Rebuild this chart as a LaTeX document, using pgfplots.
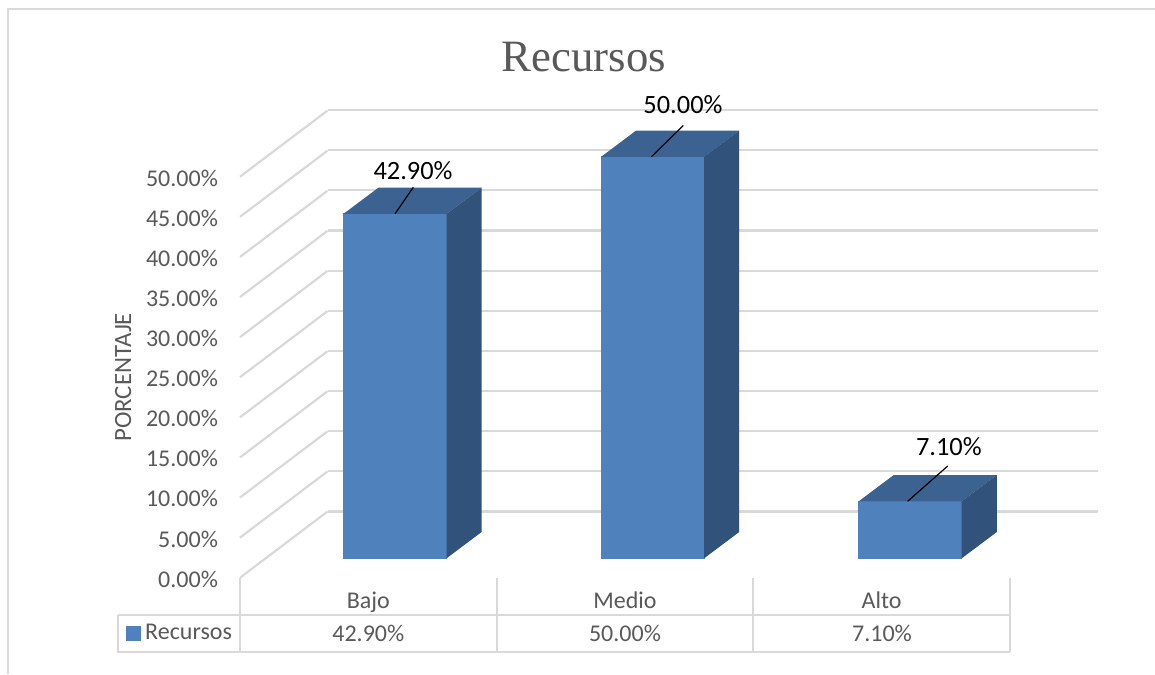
\documentclass[border=0pt]{standalone}
\usepackage{fontspec}
\setmainfont{Carlito}
\newfontfamily\titlefont{Liberation Serif}
\usepackage{pgfplots}
\pgfplotsset{compat=1.18}
\definecolor{gridc}{RGB}{217,217,217}
\definecolor{textc}{RGB}{89,89,89}
\definecolor{barfront}{RGB}{79,129,189}
\definecolor{bartop}{RGB}{60,98,145}
\definecolor{barside}{RGB}{49,82,122}

\begin{document}
% coordinates of the picture are reference pixels, 1px = 0.5pt
\begin{tikzpicture}[x=0.5pt,y=-0.5pt]
    \path[use as bounding box] (0,0) rectangle (1155,674);
    \draw[gridc,line width=1pt] (8,674) -- (8,9) -- (1155,9);
    \coordinate (wall) at (327.5,511.5);
    \coordinate (front) at (240,577.7);
    \coordinate (base) at (266.2,558.3);

    % back wall
    \begin{axis}[
        at={(wall)}, anchor=south west,
        scale only axis, width=385.25pt, height=200.75pt,
        xmin=0, xmax=1, ymin=0, ymax=50,
        ytick={0,5,...,50}, xtick=\empty, yticklabels={},
        ymajorgrids,
        grid style={gridc,line width=1.1pt},
        axis line style={draw=none},
        tick style={draw=none},
    ]
    \end{axis}

    % front plane: value axis, categories, side wall
    \begin{axis}[
        at={(front)}, anchor=south west,
        scale only axis, width=385pt, height=200.5pt,
        xmin=-0.5, xmax=2.5, ymin=0, ymax=50,
        clip=false,
        xtick={0,1,2}, xticklabels={Bajo,Medio,Alto},
        ytick={0,5,...,50},
        yticklabel={\pgfmathprintnumber[fixed,fixed zerofill,precision=2,assume math mode=true]{\tick}\%},
        yticklabel style={anchor=east,xshift=-7.5pt,yshift=-0.7pt},
        xticklabel style={anchor=base,yshift=-15.6pt},
        tick label style={font=\fontsize{12}{14}\selectfont,text=textc},
        ylabel={PORCENTAJE},
        ylabel shift=0.5pt,
        ylabel style={font=\fontsize{12.4}{14}\selectfont,text=textc},
        title={\titlefont Recursos},
        title style={at={(0.4468,1.2688)},anchor=center,font=\fontsize{22.4}{26}\selectfont,text=textc},
        axis line style={draw=none},
        tick style={draw=none},
        unbounded coords=jump,
    ]
        \addplot[gridc,line width=1.1pt] coordinates {
            (-0.5,0) (-0.159,8.25) (nan,nan)
            (-0.5,5) (-0.159,13.25) (nan,nan)
            (-0.5,10) (-0.159,18.25) (nan,nan)
            (-0.5,15) (-0.159,23.25) (nan,nan)
            (-0.5,20) (-0.159,28.25) (nan,nan)
            (-0.5,25) (-0.159,33.25) (nan,nan)
            (-0.5,30) (-0.159,38.25) (nan,nan)
            (-0.5,35) (-0.159,43.25) (nan,nan)
            (-0.5,40) (-0.159,48.25) (nan,nan)
            (-0.5,45) (-0.159,53.25) (nan,nan)
            (-0.5,50) (-0.159,58.25)
        };
    \end{axis}

    % data table under the plot
    \draw[gridc,line width=1.1pt] (240,577.7) -- (240,652.3)
        (496.7,577.7) -- (496.7,652.3)
        (753.3,577.7) -- (753.3,652.3)
        (1010,577.7) -- (1010,652.3)
        (118.3,614.7) -- (1010,614.7)
        (118.3,614.7) -- (118.3,652.3) -- (1010,652.3);
    \begin{scope}[every node/.style={font=\fontsize{12}{14}\selectfont,text=textc}]
        \node at (368.3,633) {42.90\%};
        \node at (625,633) {50.00\%};
        \node at (882,633) {7.10\%};
    \end{scope}

    % bars, the base sits above the front edge of the floor
    \begin{axis}[
        at={(base)}, anchor=south west,
        scale only axis, width=386.4pt, height=200.75pt,
        xmin=-0.5, xmax=2.5, ymin=0, ymax=50,
        clip=false,
        xtick=\empty, ytick=\empty,
        axis line style={draw=none},
        legend style={at={(-0.1814,-0.187)},anchor=west,draw=none,fill=none,
            font=\fontsize{12}{14}\selectfont,text=textc,inner sep=0pt},
    ]
        \addplot[ybar,bar width=0.4,fill=barfront,draw=barfront,
            legend image code/.code={\fill[barfront] (0pt,-3.5pt) rectangle (7pt,3.5pt);}]
            coordinates {(0,42.9) (1,50) (2,7.1)};
        \addlegendentry{Recursos}
        \addplot[fill=bartop,draw=none,forget plot] coordinates {(-0.2,42.9) (0.2,42.9) (0.336,46.17) (-0.064,46.17)} -- cycle;
        \addplot[fill=barside,draw=none,forget plot] coordinates {(0.2,0) (0.336,3.27) (0.336,46.17) (0.2,42.9)} -- cycle;
        \addplot[fill=bartop,draw=none,forget plot] coordinates {(0.8,50) (1.2,50) (1.336,53.27) (0.936,53.27)} -- cycle;
        \addplot[fill=barside,draw=none,forget plot] coordinates {(1.2,0) (1.336,3.27) (1.336,53.27) (1.2,50)} -- cycle;
        \addplot[fill=bartop,draw=none,forget plot] coordinates {(1.8,7.1) (2.2,7.1) (2.336,10.37) (1.936,10.37)} -- cycle;
        \addplot[fill=barside,draw=none,forget plot] coordinates {(2.2,0) (2.336,3.27) (2.336,10.37) (2.2,7.1)} -- cycle;
        % leader lines to the data labels
        \addplot[black,line width=0.6pt,forget plot] coordinates {(0,42.9) (0.071,46.2)};
        \addplot[black,line width=0.6pt,forget plot] coordinates {(0.995,50) (1.119,53.9)};
        \addplot[black,line width=0.6pt,forget plot] coordinates {(1.99,7.1) (2.146,11.5)};
        \begin{scope}[every node/.style={font=\fontsize{13.2}{15}\selectfont,text=black}]
            \node at (axis cs:0.07,48.3) {42.90\%};
            \node at (axis cs:1.118,56.45) {50.00\%};
            \node at (axis cs:2.15,13.86) {7.10\%};
        \end{scope}
    \end{axis}
\end{tikzpicture}
\end{document}
